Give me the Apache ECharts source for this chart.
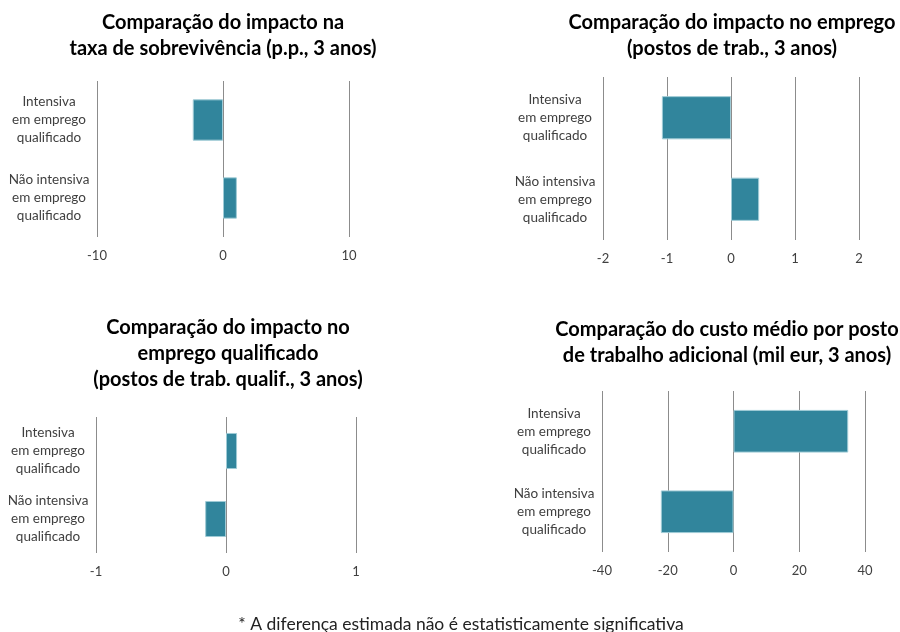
<!DOCTYPE html>
<html>
<head>
<meta charset="utf-8">
<script src="https://cdn.jsdelivr.net/npm/echarts@6/dist/echarts.min.js"></script>
<style>
  html, body { margin: 0; padding: 0; background: #fff; }
  #chart { width: 900px; height: 632px; }
</style>
</head>
<body>
<div id="chart"></div>
<script>
var categories = ['Intensiva\nem emprego\nqualificado', 'Não intensiva\nem emprego\nqualificado'];

var sobrevivencia = [-2.4, 1.1];
var emprego = [-1.08, 0.44];
var empregoQualif = [0.085, -0.16];
var custoMedio = [34.9, -22.1];

var titles = [
    'Comparação do impacto na\ntaxa de sobrevivência (p.p., 3 anos)',
    'Comparação do impacto no emprego\n(postos de trab., 3 anos)',
    'Comparação do impacto no\nemprego qualificado\n(postos de trab. qualif., 3 anos)',
    'Comparação do custo médio por posto\nde trabalho adicional (mil eur, 3 anos)'
];
var footnote = '* A diferença estimada não é estatisticamente significativa';

var ranges = [[-10, 10, 10], [-2, 2, 1], [-1, 1, 1], [-40, 40, 20]];
var seriesData = [sobrevivencia, emprego, empregoQualif, custoMedio];

var font = 'Lato, "Noto Sans", sans-serif';
var grids = [
    {left: 97, top: 81, width: 252, height: 156},
    {left: 603, top: 77, width: 256, height: 163},
    {left: 96, top: 417, width: 260, height: 136},
    {left: 602, top: 391, width: 263, height: 161}
];
var titlePos = [[223, 10], [732, 10], [228, 315], [727, 317]];

var chart = echarts.init(document.getElementById('chart'));

var option = {
    animation: false,
    textStyle: {fontFamily: font},
    title: titles.map(function (t, i) {
        return {
            text: t,
            left: titlePos[i][0],
            top: titlePos[i][1],
            padding: 0,
            textAlign: 'center',
            textStyle: {fontSize: 20, fontWeight: 'bold', color: '#000', lineHeight: 26, fontFamily: font}
        };
    }).concat([{
        text: footnote,
        left: 461,
        top: 615,
        padding: 0,
        textAlign: 'center',
        textStyle: {fontSize: 17.5, fontWeight: 'normal', color: '#222', fontFamily: font}
    }]),
    grid: grids,
    xAxis: ranges.map(function (r, i) {
        return {
            type: 'value',
            gridIndex: i,
            min: r[0],
            max: r[1],
            interval: r[2],
            axisLine: {show: false},
            axisTick: {show: false},
            axisLabel: {fontSize: 13, color: '#404040', margin: 12, fontFamily: font},
            splitLine: {lineStyle: {color: '#8c8c8c', width: 1}}
        };
    }),
    yAxis: ranges.map(function (r, i) {
        return {
            type: 'category',
            gridIndex: i,
            data: categories,
            inverse: true,
            axisLine: {show: false},
            axisTick: {show: false},
            axisLabel: {fontSize: 13.5, color: '#404040', lineHeight: 18, align: 'center', margin: 48, fontFamily: font}
        };
    }),
    series: seriesData.map(function (d, i) {
        return {
            type: 'bar',
            xAxisIndex: i,
            yAxisIndex: i,
            data: d,
            barCategoryGap: '47%',
            itemStyle: {color: '#31859c', borderColor: '#9fcbd6', borderWidth: 1}
        };
    })
};

chart.setOption(option);
</script>
</body>
</html>
